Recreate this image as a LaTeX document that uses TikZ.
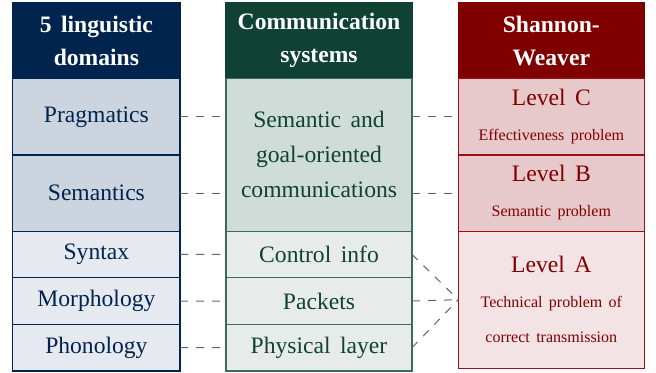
\documentclass[tikz,border=0pt]{standalone}
\usepackage{fontspec}
\setmainfont[WordSpace=1.6]{Liberation Serif}
\usetikzlibrary{positioning}

\begin{document}
\begin{tikzpicture}[x=1pt,y=1pt]
\definecolor{lingcolor}{HTML}{00244D}
\definecolor{lingfill1}{HTML}{CCD5DF}
\definecolor{lingfill2}{HTML}{E6EAF0}
\definecolor{commcolor}{HTML}{0F4233}
\definecolor{commline}{HTML}{3A6B5B}
\definecolor{commfill1}{HTML}{D0DCD8}
\definecolor{commfill2}{HTML}{E7ECEA}
\definecolor{swcolor}{HTML}{800000}
\definecolor{swline}{HTML}{9A1015}
\definecolor{swfill1}{HTML}{E8C9CB}
\definecolor{swfill2}{HTML}{F3E3E4}
\tikzstyle{cell}=[rectangle, draw, line width=0.6pt, outer sep=0pt, inner sep=0pt, align=center,
font=\fontsize{11.8}{17.5}\selectfont]
\tikzstyle{head}=[cell, text=white, font=\fontsize{11.8}{16.5}\selectfont\bfseries, minimum height=38.2pt]
\tikzstyle{big-cell}=[cell, minimum height=38.1pt]
\tikzstyle{small-cell}=[cell, minimum height=23.3pt]
\tikzstyle{ling}=[minimum width=83.6pt, draw=lingcolor, text=lingcolor]
\tikzstyle{comm}=[minimum width=93pt, draw=commline, text=commcolor]
\tikzstyle{sw}=[minimum width=93pt, draw=swline, text=swcolor]
\tikzstyle{link}=[black!60, line width=0.5pt, dash pattern=on 4pt off 4pt]

\useasboundingbox (0,0) rectangle (328,186);

% linguistic domains
\node[head, ling, fill=lingcolor, text=white] (Hling) at (48.2,165.75) {5 linguistic\\domains};
\node[big-cell, ling, fill=lingfill1, below=0pt of Hling] (Prag) {Pragmatics};
\node[big-cell, ling, fill=lingfill1, below=0pt of Prag] (Sem) {Semantics};
\node[small-cell, ling, fill=lingfill2, below=0pt of Sem] (Syn) {Syntax};
\node[small-cell, ling, fill=lingfill2, below=0pt of Syn] (Mor) {Morphology};
\node[small-cell, ling, fill=lingfill2, below=0pt of Mor] (Pho) {Phonology};

% communication systems
\node[head, comm, fill=commcolor, draw=commcolor, text=white] (Hcomm) at (159.5,165.75) {Communication\\systems};
\node[cell, comm, fill=commfill1, minimum height=76.2pt, below=0pt of Hcomm] (Sgo) {Semantic and\\goal-oriented\\communications};
\node[small-cell, comm, fill=commfill2, below=0pt of Sgo] (Ctrl) {Control info};
\node[small-cell, comm, fill=commfill2, below=0pt of Ctrl] (Pkt) {Packets};
\node[small-cell, comm, fill=commfill2, below=0pt of Pkt] (Phy) {Physical layer};

% Shannon-Weaver levels
\node[head, sw, fill=swcolor, draw=swcolor, text=white] (Hsw) at (275.65,165.75) {Shannon-\\Weaver};
\node[big-cell, sw, fill=swfill1, below=0pt of Hsw] (LC) {Level C\\{\fontsize{8}{17.5}\selectfont Effectiveness problem}};
\node[big-cell, sw, fill=swfill1, below=0pt of LC] (LB) {Level B\\{\fontsize{8}{17.5}\selectfont Semantic problem}};
\node[cell, sw, fill=swfill2, minimum height=68.55pt, below=0pt of LB] (LA) {Level A\\{\fontsize{8}{17.5}\selectfont Technical problem of}\\{\fontsize{8}{17.5}\selectfont correct transmission}};

\draw[style=link] (Prag.east) -- (Prag.east -| Sgo.west);
\draw[style=link] (Sem.east) -- (Sem.east -| Sgo.west);
\draw[style=link] (Syn.east) -- (Ctrl.west);
\draw[style=link] (Mor.east) -- (Pkt.west);
\draw[style=link] (Pho.east) -- (Phy.west);
\draw[style=link] (Sgo.east |- LC.west) -- (LC.west);
\draw[style=link] (Sgo.east |- LB.west) -- (LB.west);
\draw[style=link] (Ctrl.east) -- (LA.west);
\draw[style=link] (Pkt.east) -- (LA.west);
\draw[style=link] (Phy.east) -- (LA.west);

\end{tikzpicture}
\end{document}
